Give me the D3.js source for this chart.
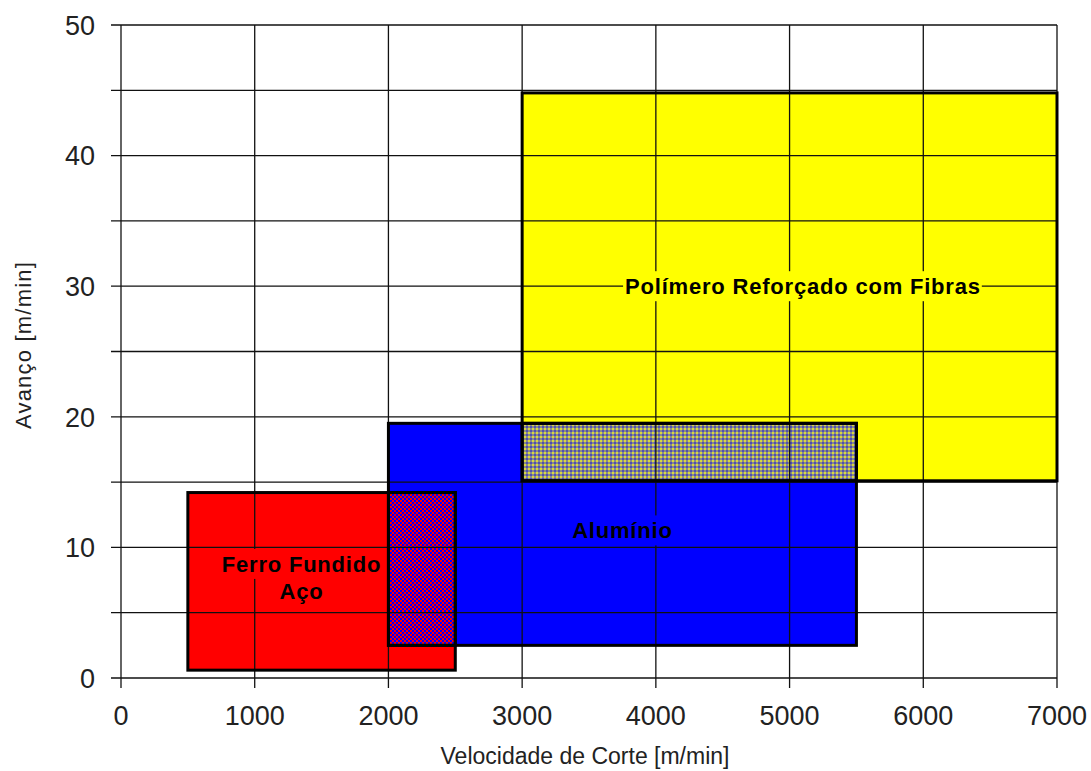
<!DOCTYPE html>
<html>
<head>
<meta charset="utf-8">
<script src="https://cdn.jsdelivr.net/npm/d3@7"></script>
<style>
  html, body { margin: 0; padding: 0; background: #ffffff; }
  svg { display: block; }
</style>
</head>
<body>
<svg id="chart" width="1091" height="771"></svg>
<script>
// ---- data ----
const materials = ["Ferro Fundido\nAço", "Alumínio", "Polímero Reforçado com Fibras"];
const speedMin = [500, 2000, 3000];
const speedMax = [2500, 5500, 7000];
const feedMin = [0.6, 2.5, 15.1];
const feedMax = [14.2, 19.5, 44.8];
const labelSpeed = [1350, 3750, 5100];
const labelFeed = [7.7, 11.3, 30];
const xTicks = [0, 1000, 2000, 3000, 4000, 5000, 6000, 7000];
const yTicks = [0, 10, 20, 30, 40, 50];
const yGrid = [0, 5, 10, 15, 20, 25, 30, 35, 40, 45, 50];
const xTitle = "Velocidade de Corte [m/min]";
const yTitle = "Avanço [m/min]";

// ---- styles ----
const fills = ["#ff0000", "#0000ff", "#ffff00"];

(function () {
const svg = d3.select("#chart");
const mLeft = 121, mRight = 1057, mTop = 25, mBottom = 678;
const x = d3.scaleLinear().domain([0, 7000]).range([mLeft, mRight]);
const y = d3.scaleLinear().domain([0, 50]).range([mBottom, mTop]);

// checker patterns (2px cells)
const defs = svg.append("defs");
function checker(id, a, b) {
  const p = defs.append("pattern").attr("id", id).attr("patternUnits", "userSpaceOnUse")
    .attr("width", 4).attr("height", 4);
  p.append("rect").attr("width", 4).attr("height", 4).attr("fill", b);
  p.append("rect").attr("width", 2).attr("height", 2).attr("fill", a);
  p.append("rect").attr("x", 2).attr("y", 2).attr("width", 2).attr("height", 2).attr("fill", a);
}
checker("hatchRB", "#ff0000", "#0000ff");
// grey checker with yellow/blue dots
const p2 = defs.append("pattern").attr("id", "hatchBY").attr("patternUnits", "userSpaceOnUse")
  .attr("width", 4).attr("height", 4);
p2.append("rect").attr("width", 4).attr("height", 4).attr("fill", "#8a8a8a");
p2.append("rect").attr("width", 2).attr("height", 2).attr("fill", "#d8d840");
p2.append("rect").attr("x", 2).attr("y", 2).attr("width", 2).attr("height", 2).attr("fill", "#5050b0");

const idx = d3.range(materials.length);

// fills
svg.append("g").selectAll("rect").data(idx).join("rect")
  .attr("x", i => x(speedMin[i])).attr("y", i => y(feedMax[i]))
  .attr("width", i => x(speedMax[i]) - x(speedMin[i]))
  .attr("height", i => y(feedMin[i]) - y(feedMax[i]))
  .attr("fill", i => fills[i]);

// overlaps (intersections of consecutive regions)
const overlaps = [];
const pats = ["url(#hatchRB)", "url(#hatchBY)"];
for (let i = 0; i < materials.length - 1; i++) {
  const j = i + 1;
  const x0 = Math.max(speedMin[i], speedMin[j]), x1 = Math.min(speedMax[i], speedMax[j]);
  const y0 = Math.max(feedMin[i], feedMin[j]), y1 = Math.min(feedMax[i], feedMax[j]);
  if (x1 > x0 && y1 > y0) overlaps.push({x0, x1, y0, y1, fill: pats[i]});
}
svg.append("g").attr("shape-rendering", "crispEdges").selectAll("rect").data(overlaps).join("rect")
  .attr("x", d => Math.round(x(d.x0))).attr("y", d => Math.round(y(d.y1)))
  .attr("width", d => Math.round(x(d.x1) - x(d.x0))).attr("height", d => Math.round(y(d.y0) - y(d.y1)))
  .attr("fill", d => d.fill);

// gridlines
const grid = svg.append("g").attr("stroke", "#111").attr("stroke-width", 1.3);
grid.selectAll("line.h").data(yGrid).join("line").attr("class", "h")
  .attr("x1", mLeft - 10).attr("x2", mRight).attr("y1", d => y(d)).attr("y2", d => y(d));
grid.selectAll("line.v").data(xTicks).join("line").attr("class", "v")
  .attr("x1", d => x(d)).attr("x2", d => x(d)).attr("y1", mTop).attr("y2", mBottom + 10);

// borders
svg.append("g").selectAll("rect").data(idx).join("rect")
  .attr("x", i => x(speedMin[i])).attr("y", i => y(feedMax[i]))
  .attr("width", i => x(speedMax[i]) - x(speedMin[i]))
  .attr("height", i => y(feedMin[i]) - y(feedMax[i]))
  .attr("fill", "none").attr("stroke", "#000").attr("stroke-width", 3);
svg.append("g").selectAll("rect").data(overlaps).join("rect")
  .attr("x", d => x(d.x0)).attr("y", d => y(d.y1))
  .attr("width", d => x(d.x1) - x(d.x0)).attr("height", d => y(d.y0) - y(d.y1))
  .attr("fill", "none").attr("stroke", "#000").attr("stroke-width", 3);

// tick labels
const tickFont = "'Liberation Sans', Arial, sans-serif";
svg.append("g").selectAll("text").data(yTicks).join("text")
  .attr("x", 95).attr("y", d => y(d)).attr("dy", "0.36em")
  .attr("text-anchor", "end").attr("font-family", tickFont).attr("font-size", 27)
  .attr("fill", "#222").text(d => d);
svg.append("g").selectAll("text").data(xTicks).join("text")
  .attr("x", d => x(d)).attr("y", 725)
  .attr("text-anchor", "middle").attr("font-family", tickFont).attr("font-size", 27)
  .attr("fill", "#222").text(d => d);

// axis titles
svg.append("text").attr("x", 585).attr("y", 764).attr("text-anchor", "middle")
  .attr("font-family", tickFont).attr("font-size", 23).attr("fill", "#222").text(xTitle);
svg.append("text").attr("transform", "translate(31,345) rotate(-90)").attr("text-anchor", "middle")
  .attr("font-family", tickFont).attr("font-size", 22).attr("letter-spacing", 1.2)
  .attr("fill", "#222").text(yTitle);

// region labels with background boxes
const lab = svg.append("g");
idx.forEach(i => {
  const lines = materials[i].split("\n");
  const lh = 27;
  lines.forEach((ln, k) => {
    const cy = y(labelFeed[i]) + (k - (lines.length - 1) / 2) * lh;
    const g = lab.append("g");
    const t = g.append("text").attr("x", x(labelSpeed[i])).attr("y", cy).attr("dy", "0.36em")
      .attr("text-anchor", "middle").attr("font-family", tickFont).attr("font-weight", "bold")
      .attr("font-size", 22).attr("letter-spacing", 0.8).attr("fill", "#000").text(ln);
    const b = t.node().getBBox();
    g.insert("rect", "text").attr("x", b.x - 2).attr("y", cy - 15).attr("width", b.width + 3)
      .attr("height", 30).attr("fill", fills[i]);
  });
});
})();
</script>
</body>
</html>
